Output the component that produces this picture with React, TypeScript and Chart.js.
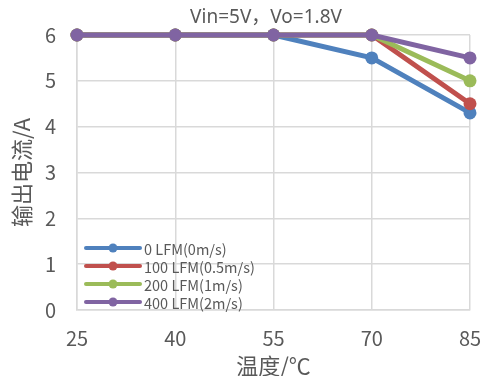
import React, { useEffect, useRef } from "react";
import { Chart, registerables } from "chart.js";

Chart.register(...registerables);

const temps = ["25", "40", "55", "70", "85"];
const seriesNames = ["0 LFM(0m/s)", "100 LFM(0.5m/s)", "200 LFM(1m/s)", "400 LFM(2m/s)"];
const lfm0 = [6, 6, 6, 5.5, 4.3];
const lfm100 = [6, 6, 6, 6, 4.5];
const lfm200 = [6, 6, 6, 6, 5.0];
const lfm400 = [6, 6, 6, 6, 5.5];
const yTicks = [0, 1, 2, 3, 4, 5, 6];
const colors = ["#4F81BD", "#C0504D", "#9BBB59", "#8064A2"];
const titleText = "Vin=5V，Vo=1.8V";

const FONT = "'Noto Sans CJK SC', sans-serif";
const TITLE_FONT = "'Noto Sans', 'Noto Sans CJK SC', sans-serif";

const overlayPlugin = {
  id: "overlay",
  afterDraw(chart: any) {
    const ctx = chart.ctx;
    const area = chart.chartArea;
    ctx.save();
    // title
    ctx.fillStyle = "#595959";
    ctx.font = `19px ${TITLE_FONT}`;
    ctx.textAlign = "center";
    ctx.textBaseline = "middle";
    ctx.fillText(titleText, 266, 18);
    // legend
    const x0 = area.left + 9;
    const len = 54;
    let y = area.bottom - 62;
    ctx.font = `14.5px ${FONT}`;
    ctx.textAlign = "left";
    chart.data.datasets.forEach((ds: any) => {
      ctx.strokeStyle = ds.borderColor;
      ctx.lineWidth = 4;
      ctx.lineCap = "round";
      ctx.beginPath();
      ctx.moveTo(x0, y);
      ctx.lineTo(x0 + len, y);
      ctx.stroke();
      ctx.fillStyle = ds.borderColor;
      ctx.beginPath();
      ctx.arc(x0 + len / 2, y, 4.5, 0, Math.PI * 2);
      ctx.fill();
      ctx.fillStyle = "#595959";
      ctx.fillText(ds.label, x0 + len + 4, y + 1);
      y += 18;
    });
    ctx.restore();
  },
};

export default function App() {
  const ref = useRef<HTMLCanvasElement | null>(null);
  useEffect(() => {
    if (!ref.current) return;
    const all = [lfm0, lfm100, lfm200, lfm400];
    const chart = new Chart(ref.current, {
      type: "line",
      data: {
        labels: temps,
        datasets: all.map((d, i) => ({
          label: seriesNames[i],
          data: d,
          borderColor: colors[i],
          backgroundColor: colors[i],
          borderWidth: 5,
          pointRadius: 6.5,
          pointHoverRadius: 6.5,
          pointBorderWidth: 0,
          tension: 0,
          order: 3 - i,
          clip: false as any,
        })),
      },
      options: {
        animation: false,
        responsive: false,
        layout: { padding: { top: 35, right: 12, left: 0, bottom: 0 } },
        plugins: {
          legend: { display: false },
          title: { display: false },
          tooltip: { enabled: false },
        },
        scales: {
          x: {
            offset: false,
            grid: { color: "#d9d9d9", lineWidth: 1.5, drawTicks: false },
            border: { color: "#d9d9d9", width: 1.5 },
            ticks: { color: "#595959", font: { family: FONT, size: 20 }, padding: 16, maxRotation: 0 },
            title: {
              display: true,
              text: "温度/℃",
              color: "#595959",
              font: { family: FONT, size: 22 },
              padding: { top: 0, bottom: -3 },
            },
            afterFit(scale: any) {
              scale.height = 66;
              scale.paddingLeft = 0;
              scale.paddingRight = 0;
            },
          },
          y: {
            min: 0,
            max: 6,
            afterBuildTicks(scale: any) {
              scale.ticks = yTicks.map((v) => ({ value: v }));
            },
            grid: { color: "#d9d9d9", lineWidth: 1.5, drawTicks: false },
            border: { color: "#d9d9d9", width: 1.5 },
            ticks: { color: "#595959", font: { family: FONT, size: 20 }, padding: 21 },
            title: {
              display: true,
              text: "输出电流/A",
              color: "#595959",
              font: { family: FONT, size: 22 },
              padding: { top: 8, bottom: 0 },
            },
            afterFit(scale: any) {
              scale.width = 77;
              scale.paddingTop = 0;
              scale.paddingBottom = 0;
            },
          },
        },
      },
      plugins: [overlayPlugin],
    });
    return () => chart.destroy();
  }, []);
  return (
    <div style={{ position: "fixed", left: 0, top: 0, width: 482, height: 376, background: "#fff" }}>
      <canvas ref={ref} width={482} height={376} style={{ width: 482, height: 376, display: "block" }} />
    </div>
  );
}
